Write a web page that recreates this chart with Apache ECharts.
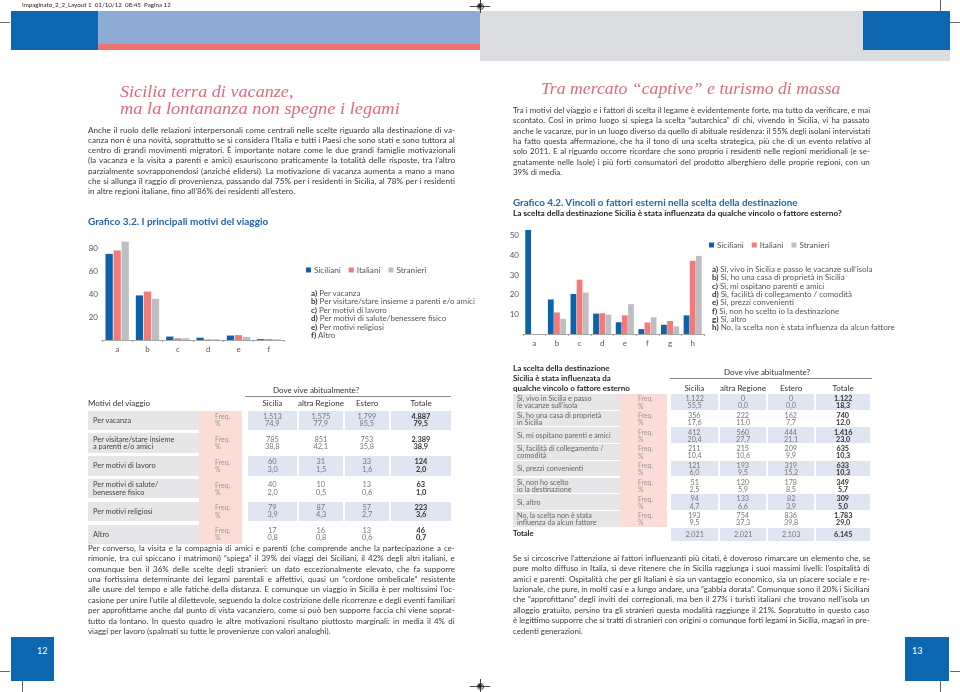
<!DOCTYPE html>
<html><head><meta charset="utf-8">
<script src="https://cdn.jsdelivr.net/npm/echarts@6/dist/echarts.min.js"></script>
<style>
html,body{margin:0;padding:0;background:#fff;}
#page{position:relative;width:960px;height:692px;overflow:hidden;font-family:Lato,'Noto Sans',sans-serif;}
#chart{position:absolute;left:0;top:0;width:960px;height:692px;}
.a{position:absolute;white-space:nowrap;}
.r{position:absolute;}
</style></head><body><div id="page"><div id="chart"></div></div>
<script>
// ---------------- DATA ----------------
const seriesNames = ['Siciliani','Italiani','Stranieri'];
const tableHeads = ['Sicilia','altra Regione','Estero','Totale'];

const leftCats = ['a','b','c','d','e','f'];
const leftSiciliani = [74.9, 38.8, 3.0, 2.0, 3.9, 0.8];
const leftItaliani  = [77.9, 42.1, 1.5, 0.5, 4.3, 0.8];
const leftStranieri = [85.5, 35.8, 1.6, 0.6, 2.7, 0.6];
const leftTotalePct = [79.5, 38.9, 2.0, 1.0, 3.6, 0.7];
const leftFreqSicilia = ['1.513','785','60','40','79','17'];
const leftFreqRegione = ['1.575','851','31','10','87','16'];
const leftFreqEstero  = ['1.799','753','33','13','57','13'];
const leftFreqTotale  = ['4.887','2.389','124','63','223','46'];
const leftYTicks = [20, 40, 60, 80];
const leftRowLabels = [['Per vacanza'],['Per visitare/stare insieme','a parenti e/o amici'],['Per motivi di lavoro'],['Per motivi di salute/','benessere fisico'],['Per motivi religiosi'],['Altro']];
const leftLegendItems = ['Per vacanza','Per visitare/stare insieme a parenti e/o amici','Per motivi di lavoro','Per motivi di salute/benessere fisico','Per motivi religiosi','Altro'];

const rightCats = ['a','b','c','d','e','f','g','h'];
const rightSiciliani = [55.5, 17.6, 20.4, 10.4, 6.0, 2.5, 4.7, 9.5];
const rightItaliani  = [0.0, 11.0, 27.7, 10.6, 9.5, 5.9, 6.6, 37.3];
const rightStranieri = [0.0, 7.7, 21.1, 9.9, 15.2, 8.5, 3.9, 39.8];
const rightTotalePct = [18.3, 12.0, 23.0, 10.3, 10.3, 5.7, 5.0, 29.0];
const rightFreqSicilia = ['1.122','356','412','211','121','51','94','193'];
const rightFreqRegione = ['0','222','560','215','193','120','133','754'];
const rightFreqEstero  = ['0','162','444','209','319','178','82','836'];
const rightFreqTotale  = ['1.122','740','1.416','635','633','349','309','1.783'];
const rightTotals = ['2.021','2.021','2.103','6.145'];
const rightYTicks = [10, 20, 30, 40, 50];
const rightRowLabels = [['Sì, vivo in Sicilia e passo','le vacanze sull’isola'],['Sì, ho una casa di proprietà','in Sicilia'],['Sì, mi ospitano parenti e amici'],['Sì, facilità di collegamento /','comodità'],['Sì, prezzi convenienti'],['Sì, non ho scelto',' io la destinazione'],['Sì, altro'],['No, la scelta non è stata','influenza da alcun fattore']];
const rightLegendItems = ['Sì, vivo in Sicilia e passo le vacanze sull’isola','Sì, ho una casa di proprietà in Sicilia','Sì, mi ospitano parenti e amici','Sì, facilità di collegamento / comodità','Sì, prezzi convenienti','Sì, non ho scelto io la destinazione','Sì, altro','No, la scelta non è stata influenza da alcun fattore'];

const paraTopLeft = [
'Anche il ruolo delle relazioni interpersonali come centrali nelle scelte riguardo alla destinazione di va-',
'canza non è una novità, soprattutto se si considera l’Italia e tutti i Paesi che sono stati e sono tuttora al',
'centro di grandi movimenti migratori. È importante notare come le due grandi famiglie motivazionali',
'(la vacanza e la visita a parenti e amici) esauriscono praticamente la totalità delle risposte, tra l’altro',
'parzialmente sovrapponendosi (anziché elidersi). La motivazione di vacanza aumenta a mano a mano',
'che si allunga il raggio di provenienza, passando dal 75% per i residenti in Sicilia, al 78% per i residenti',
'in altre regioni italiane, fino all’86% dei residenti all’estero.'];
const paraTopRight = [
'Tra i motivi del viaggio e i fattori di scelta il legame è evidentemente forte, ma tutto da verificare, e mai',
'scontato. Così in primo luogo si spiega la scelta “autarchica” di chi, vivendo in Sicilia, vi ha passato',
'anche le vacanze, pur in un luogo diverso da quello di abituale residenza: il 55% degli isolani intervistati',
'ha fatto questa affermazione, che ha il tono di una scelta strategica, più che di un evento relativo al',
'solo 2011. E al riguardo occorre ricordare che sono proprio i residenti nelle regioni meridionali (e se-',
'gnatamente nelle Isole) i più forti consumatori del prodotto alberghiero delle proprie regioni, con un',
'39% di media.'];
const paraBottomLeft = [
'Per converso, la visita e la compagnia di amici e parenti (che comprende anche la partecipazione a ce-',
'rimonie, tra cui spiccano i matrimoni) “spiega” il 39% dei viaggi dei Siciliani, il 42% degli altri italiani, e',
'comunque ben il 36% delle scelte degli stranieri: un dato eccezionalmente elevato, che fa supporre',
'una fortissima determinante dei legami parentali e affettivi, quasi un “cordone ombelicale” resistente',
'alle usure del tempo e alle fatiche della distanza. E comunque un viaggio in Sicilia è per moltissimi l’oc-',
'casione per unire l’utile al dilettevole, seguendo la dolce costrizione delle ricorrenze e degli eventi familiari',
'per approfittarne anche dal punto di vista vacanziero, come si può ben supporre faccia chi viene soprat-',
'tutto da lontano. In questo quadro le altre motivazioni risultano piuttosto marginali: in media il 4% di',
'viaggi per lavoro (spalmati su tutte le provenienze con valori analoghi).'];
const paraBottomRight = [
'Se si circoscrive l’attenzione ai fattori influenzanti più citati, è doveroso rimarcare un elemento che, se',
'pure molto diffuso in Italia, si deve ritenere che in Sicilia raggiunga i suoi massimi livelli: l’ospitalità di',
'amici e parenti.  Ospitalità che per gli Italiani è sia un vantaggio economico, sia un piacere sociale e re-',
'lazionale, che pure, in molti casi e a lungo andare, una “gabbia dorata”. Comunque sono il 20% i Siciliani',
'che “approfittano” degli inviti dei corregionali, ma ben il 27% i turisti italiani che trovano nell’isola un',
'alloggio gratuito, persino tra gli stranieri questa modalità raggiunge il 21%. Sopratutto in questo caso',
'è legittimo supporre che si tratti di stranieri con origini o comunque forti legami in Sicilia, magari in pre-',
'cedenti generazioni.'];

// ---------------- HELPERS ----------------
const page = document.getElementById('page');
function box(x,y,w,h,c){const d=document.createElement('div');d.className='r';Object.assign(d.style,{left:x+'px',top:y+'px',width:w+'px',height:h+'px',background:c});page.appendChild(d);return d;}
function txt(x,y,s,o){o=o||{};const d=document.createElement('div');d.className='a';const size=o.size||8;const lh=size*1.25;
 d.style.fontSize=size+'px';d.style.lineHeight=lh+'px';d.style.top=(y-lh/2)+'px';d.style.color=o.color||'#333';
 if(o.weight)d.style.fontWeight=o.weight; if(o.family)d.style.fontFamily=o.family; if(o.italic)d.style.fontStyle='italic';
 if(o.html)d.innerHTML=s; else d.textContent=s; d.style.left=x+'px'; page.appendChild(d);
 const w=d.offsetWidth; let left=x; if(o.align==='center')left=x-w/2; else if(o.align==='right')left=x-w; d.style.left=left+'px'; return d;}
function fitText(x,y,W,s,o){const d=txt(x,y,s,o);const w=d.offsetWidth;d.style.transformOrigin='0 50%';d.style.transform='scaleX('+(W/w)+')';return d;}
function para(x,y0,W,lh,lines,size,color){
 const els=lines.map((s,i)=>txt(x,y0+i*lh,s,{size:size,color:color}));
 const ws=els.map(d=>d.offsetWidth);let r=1;
 for(let i=0;i<els.length-1;i++) r=Math.min(r,W/ws[i]);
 els.forEach((d,i)=>{d.style.transformOrigin='0 50%';if(r<1)d.style.transform='scaleX('+r+')';
  if(i<els.length-1){const sp=(lines[i].match(/ /g)||[]).length;const extra=W/r-ws[i];if(sp>0)d.style.wordSpacing=(extra/sp)+'px';}});
}
const fmt=v=>v.toFixed(1).replace('.',',');

// ---------------- PAGE FURNITURE ----------------
const BLUE='#0d66b0';
box(480,11,470,50,'#dcdde0');
box(11,11,87,39,BLUE); box(98,11,382,33,'#8eabd6'); box(98,44,382,6,'#f07373'); box(863,11,87,39,BLUE);
txt(22,5,'Impaginato_2_2_Layout 1  01/10/12  08:45  Pagina 12',{size:6.2,color:'#222'}).style.whiteSpace='pre';
box(0,22,10,0.8,'#666'); box(950,22,10,0.8,'#666'); box(940,0,0.8,11,'#666');
function reg(cx,cy){box(cx-10,cy,20,0.7,'#444');box(cx,cy-7,0.7,14,'#444');const c=box(cx-3.5,cy-3.5,7,7,'transparent');c.style.border='1px solid #333';c.style.borderRadius='50%';c.style.boxSizing='border-box';const c2=box(cx-1.8,cy-1.8,3.6,3.6,'#222');c2.style.borderRadius='50%';}
reg(480,6); reg(480,686);
box(11,637,43,44,BLUE); box(905,637,44,44,BLUE);
txt(42,651,'12',{size:9,color:'#fff',align:'center'}); txt(917,651,'13',{size:9,color:'#fff',align:'center'});
box(0,671,10,0.8,'#666'); box(950,671,10,0.8,'#666'); box(22,681,0.8,11,'#666'); box(940,681,0.8,11,'#666');

// titles
const TITLE={size:17,color:'#e3687b',family:"'Liberation Serif','DejaVu Serif',serif",italic:true};
fitText(120,92,173,'Sicilia terra di vacanze,',TITLE);
fitText(120,109,280,'ma la lontananza non spegne i legami',TITLE);
fitText(541,89,299,'Tra mercato “captive” e turismo di massa',TITLE);

// paragraphs
para(88,130,367,10.2,paraTopLeft,8.2,'#3a3a3a');
para(513,110,357,10.4,paraTopRight,8.2,'#3a3a3a');
para(88,548,367,10.4,paraBottomLeft,8.2,'#3a3a3a');
para(513,558,357,10.4,paraBottomRight,8.2,'#3a3a3a');

fitText(88,222,180,'Grafico 3.2. I principali motivi del viaggio',{size:9.5,color:'#2464aa',weight:'bold'});
fitText(513,203,285,'Grafico 4.2. Vincoli o fattori esterni nella scelta della destinazione',{size:9.5,color:'#2464aa',weight:'bold'});
fitText(513,213,329,'La scelta della destinazione Sicilia è stata influenzata da qualche vincolo o fattore esterno?',{size:8,color:'#1e1e1e',weight:'bold'});

// legend item lists
leftLegendItems.forEach((s,i)=>txt(311,293+i*8.4,'<b style="color:#333">'+leftCats[i]+')</b> '+s,{size:8,color:'#555',html:true}));
rightLegendItems.forEach((s,i)=>txt(712,269+i*8.3,'<b style="color:#333">'+rightCats[i]+')</b> '+s,{size:8,color:'#555',html:true}));

// ---------------- LEFT TABLE ----------------
(function(){
 const top=410.5,pitch=22.8,h=19.5,cols=[[248,49],[299,44],[345,44],[391,60]];
 txt(316,390,'Dove vive abitualmente?',{size:8,color:'#333',align:'center'});
 box(245,396,206,0.8,'#888');
 txt(88,403,'Motivi del viaggio',{size:8,color:'#333'});
 tableHeads.forEach((hd,j)=>txt(cols[j][0]+cols[j][1]/2,403,hd,{size:8,color:'#333',align:'center'}));
 box(199,top,43,5*pitch+h,'#fbdcd7');
 const freq=[leftFreqSicilia,leftFreqRegione,leftFreqEstero,leftFreqTotale];
 const pct=[leftSiciliani,leftItaliani,leftStranieri,leftTotalePct];
 leftRowLabels.forEach((lab,i)=>{
  const y=top+i*pitch; box(88,y,111,h,'#e6e6e8');
  if(i%2===0) cols.forEach(c=>box(c[0],y,c[1],h,'#dfe5f1'));
  if(lab.length===1) txt(93,y+h/2,lab[0],{size:7.4,color:'#444'}); else {txt(93,y+6,lab[0],{size:7.4,color:'#444'});txt(93,y+13.3,lab[1],{size:7.4,color:'#444'});}
  txt(215,y+6,'Freq.',{size:7,color:'#999'}); txt(215,y+13.3,'%',{size:7,color:'#999'});
  cols.forEach((c,j)=>{const o={size:7.4,color:j===3?'#333':'#777',align:'center',weight:j===3?'bold':null};
   txt(c[0]+c[1]/2,y+6,freq[j][i],o); txt(c[0]+c[1]/2,y+13.3,fmt(pct[j][i]),o);});
 });
})();

// ---------------- RIGHT TABLE ----------------
(function(){
 const top=394,pitch=16.7,h=15.7,cols=[[671,47],[720,46],[768,46],[816,54]];
 ['La scelta della destinazione','Sicilia è stata influenzata da','qualche vincolo o fattore esterno'].forEach((s,i)=>txt(513,368+i*10,s,{size:8,color:'#2a2a2a',weight:'bold'}));
 txt(767,372,'Dove vive abitualmente?',{size:8,color:'#333',align:'center'});
 box(670,378,202,0.8,'#888');
 tableHeads.forEach((hd,j)=>txt(cols[j][0]+cols[j][1]/2,388,hd,{size:8,color:'#333',align:'center'}));
 box(620,top,47,7*pitch+h,'#fbdcd7');
 const freq=[rightFreqSicilia,rightFreqRegione,rightFreqEstero,rightFreqTotale];
 const pct=[rightSiciliani,rightItaliani,rightStranieri,rightTotalePct];
 rightRowLabels.forEach((lab,i)=>{
  const y=top+i*pitch; box(513,y,107,h,'#e6e6e8');
  if(i%2===0) cols.forEach(c=>box(c[0],y,c[1],h,'#dfe5f1'));
  if(lab.length===1) txt(517,y+h/2,lab[0],{size:7.2,color:'#666'}); else {txt(517,y+4.6,lab[0],{size:7.2,color:'#666'});txt(517,y+11.8,lab[1],{size:7.2,color:'#666'});}
  txt(638,y+4.6,'Freq.',{size:6.8,color:'#999'}); txt(638,y+11.8,'%',{size:6.8,color:'#999'});
  cols.forEach((c,j)=>{const o={size:7.2,color:j===3?'#333':'#777',align:'center',weight:j===3?'bold':null};
   txt(c[0]+c[1]/2,y+4.6,freq[j][i],o); txt(c[0]+c[1]/2,y+11.8,fmt(pct[j][i]),o);});
 });
 const yt=top+8*pitch; cols.forEach(c=>box(c[0],yt,c[1],13,'#dfe5f1'));
 txt(513,yt+6.5,'Totale',{size:7.6,color:'#222',weight:'bold'});
 rightTotals.forEach((v,j)=>txt(cols[j][0]+cols[j][1]/2,yt+6.5,v,{size:7.2,color:j===3?'#333':'#777',align:'center',weight:j===3?'bold':null}));
})();

// ---------------- CHARTS ----------------
const chart = echarts.init(document.getElementById('chart'), null, {renderer:'canvas', width:960, height:692});
const colors=['#0b63ae','#f27b7a','#bdbec1'];
const axisLabelStyle={fontSize:8,color:'#555',fontFamily:'Lato'};
function legendAt(left,top){return {left:left,top:top,padding:0,itemWidth:5,itemHeight:5,itemGap:8,icon:'rect',selectedMode:false,data:seriesNames,textStyle:{fontSize:8.2,color:'#555',fontFamily:'Lato',padding:[0,0,0,-2]}};}
function yAx(grid,max,ticks){return {gridIndex:grid,type:'value',min:0,max:max,interval:10,axisLine:{show:false},axisTick:{show:false},splitLine:{show:false},
 axisLabel:Object.assign({margin:4,formatter:v=>ticks.indexOf(v)>=0?String(v):''},axisLabelStyle)};}
function xAx(grid,cats){return {gridIndex:grid,type:'category',data:cats,axisLine:{lineStyle:{color:'#a5a5a5',width:1}},axisTick:{show:true,length:2,lineStyle:{color:'#a5a5a5'}},axisLabel:Object.assign({margin:5},axisLabelStyle)};}
const leftData=[leftSiciliani,leftItaliani,leftStranieri], rightData=[rightSiciliani,rightItaliani,rightStranieri];
const series=[];
seriesNames.forEach((n,k)=>series.push({type:'bar',name:n,xAxisIndex:0,yAxisIndex:0,data:leftData[k],barWidth:7.3,barGap:'10%',itemStyle:{color:colors[k]},silent:true}));
seriesNames.forEach((n,k)=>series.push({type:'bar',name:n,xAxisIndex:1,yAxisIndex:1,data:rightData[k],barWidth:5.8,barGap:'6%',itemStyle:{color:colors[k]},silent:true}));
chart.setOption({
 animation:false,
 color:colors,
 legend:[legendAt(306,266),legendAt(709,241)],
 grid:[{left:102,top:236.5,width:182,height:103.5},{left:523,top:230,width:181,height:104}],
 xAxis:[xAx(0,leftCats),xAx(1,rightCats)],
 yAxis:[yAx(0,90,leftYTicks),yAx(1,53,rightYTicks)],
 series:series
});
</script></body></html>
